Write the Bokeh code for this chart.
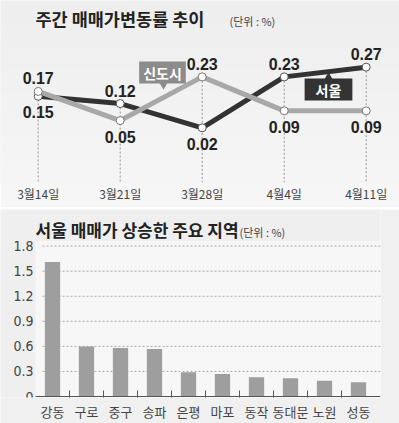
from bokeh.plotting import figure
from bokeh.layouts import column
from bokeh.models import Label, FixedTicker, BoxAnnotation, ColumnDataSource, Range1d
from bokeh.core.properties import value
from bokeh.embed import file_html
from bokeh.resources import INLINE

# ---------------- data ----------------
dates = ["3월14일", "3월21일", "3월28일", "4월4일", "4월11일"]
seoul = [0.15, 0.12, 0.02, 0.23, 0.27]
sindosi = [0.17, 0.05, 0.23, 0.09, 0.09]

regions = ["강동", "구로", "중구", "송파", "은평", "마포", "동작", "동대문", "노원", "성동"]
rise = [1.61, 0.60, 0.58, 0.57, 0.29, 0.27, 0.23, 0.22, 0.19, 0.17]
y_ticks = [0, 0.3, 0.6, 0.9, 1.2, 1.5, 1.8]

KR = "Noto Sans CJK KR"
NUM = "Liberation Sans"
NARROW = "Liberation Sans Narrow, DejaVu Sans Condensed, sans-serif"

W = 399

# ---------------- top chart ----------------
H1 = 207
SX1, X01 = 82.0, -37.7 / 82.0
SY1, YT1 = 242.7, 132.2 / 242.7
FB1 = 182  # frame bottom in figure px
YB1 = YT1 - FB1 / SY1

def t_xy(px, py):
    return X01 + px / SX1, YT1 - py / SY1

p1 = figure(width=W, height=H1, x_range=Range1d(X01, X01 + W / SX1),
            y_range=Range1d(YB1, YT1), output_backend="svg", toolbar_location=None,
            y_axis_location=None, min_border_left=0, min_border_right=0,
            min_border_top=0, min_border_bottom=H1 - FB1, frame_align=False)
p1.background_fill_color = "#f0f0f0"
p1.border_fill_color = "#f6f6f6"
p1.outline_line_color = None
p1.grid.visible = False

# soft vertical gradient of the panel
shades = ["#eeeeee", "#efefef", "#f0f0f0", "#f1f1f1", "#f2f2f2", "#f3f3f3", "#f4f4f4", "#f5f5f5"]
step = (YT1 - YB1) / len(shades)
for k, c in enumerate(shades):
    p1.add_layout(BoxAnnotation(top=YT1 - k * step, bottom=YT1 - (k + 1) * step - 0.01,
                                fill_color=c, fill_alpha=1, line_color=None, level="underlay"))

n = len(dates)
xs = list(range(n))
ax = p1.xaxis[0]
ax.ticker = FixedTicker(ticks=xs)
ax.major_label_overrides = {i: d for i, d in enumerate(dates)}
ax.axis_line_color = None
ax.major_tick_line_color = None
ax.minor_tick_line_color = None
ax.major_tick_out = 0
ax.minor_tick_out = 0
ax.major_label_standoff = 2
ax.major_label_text_font = KR
ax.major_label_text_font_size = "12px"
ax.major_label_text_color = "#444444"

tops = [max(a, b) for a, b in zip(seoul, sindosi)]
p1.segment(x0=xs, y0=tops, x1=xs, y1=[YB1] * n, line_color="#999999",
           line_width=1, line_dash="2 2")

p1.line(xs, seoul, line_color="#333333", line_width=5)
p1.line(xs, sindosi, line_color="#a8a8a8", line_width=5)
p1.scatter(xs, seoul, size=8, fill_color="white", line_color="#555555", line_width=1)
p1.scatter(xs, sindosi, size=8, fill_color="white", line_color="#777777", line_width=1)

lx, ly, lt, lo = [], [], [], []
for i in range(n):
    for vals, other in ((seoul, sindosi), (sindosi, seoul)):
        lx.append(i)
        ly.append(vals[i])
        lt.append(f"{vals[i]:.2f}")
        lo.append(-13 if vals[i] > other[i] else 16)
src = ColumnDataSource(dict(x=lx, y=ly, t=lt, off=lo))
p1.text(x="x", y="y", text="t", y_offset="off", source=src, text_align="center",
        text_baseline="middle", text_font=value(NUM), text_font_style="bold",
        text_font_size="16px", text_color="#222222")

x, y = t_xy(35, 18)
p1.add_layout(Label(x=x, y=y, text="주간 매매가변동률 추이", text_font=KR,
                    text_font_style="bold", text_font_size="17.5px", text_color="#222222",
                    text_baseline="middle"))
x, y = t_xy(229, 20)
p1.add_layout(Label(x=x, y=y, text="(단위 : %)", text_font=KR, text_font_size="11px",
                    text_color="#444444", text_baseline="middle"))

# callouts
x, y = t_xy(163, 84)
p1.scatter([x], [y], marker="inverted_triangle", size=9, fill_color="#8c8c8c", line_color=None)
x, y = t_xy(162, 72)
p1.add_layout(Label(x=x, y=y, text="신도시", text_font=KR, text_font_style="bold",
                    text_font_size="14px", text_color="white", text_align="center",
                    text_baseline="middle", background_fill_color="#8c8c8c",
                    padding=(4, 1)))
x, y = t_xy(328, 77)
p1.scatter([x], [y], marker="triangle", size=9, fill_color="#333333", line_color=None)
x, y = t_xy(328, 89)
p1.add_layout(Label(x=x, y=y, text="서울", text_font=KR, text_font_style="bold",
                    text_font_size="14px", text_color="white", text_align="center",
                    text_baseline="middle", background_fill_color="#333333",
                    padding=(11, 1)))

# ---------------- bottom chart ----------------
H2 = 214
TOP2 = 209      # page y of bottom figure
FR2 = 19        # right border
PL = 42         # page x where the plotting area starts
SX2 = 34.0
X02 = -52 / SX2
FB2 = 189
SY2 = (FB2 - 37) / 1.8
YT2 = FB2 / SY2
YS2 = -1.0 / SY2
X_END = X02 + (W - FR2) / SX2

def bx_(px):
    return X02 + px / SX2

def by_(py):
    return YT2 - (py - TOP2) / SY2

p2 = figure(width=W, height=H2, x_range=Range1d(X02, X_END),
            y_range=Range1d(YS2, YT2), output_backend="svg", toolbar_location=None,
            y_axis_location=None, min_border_left=0, min_border_right=FR2,
            min_border_top=0, min_border_bottom=H2 - FB2, frame_align=False)
p2.background_fill_color = "#f7f7f7"
p2.border_fill_color = "#f0f0f0"
p2.outline_line_color = None
p2.grid.visible = False
p2.add_layout(BoxAnnotation(bottom=by_(241), fill_color="#efefef", fill_alpha=1,
                            line_color=None, level="underlay"))
p2.add_layout(BoxAnnotation(right=bx_(35), fill_color="#efefef", fill_alpha=1,
                            line_color=None, level="underlay"))

# dotted grid lines and y tick labels
gy = y_ticks[1:]
p2.segment(x0=[bx_(PL)] * len(gy), y0=gy, x1=[X_END] * len(gy), y1=gy,
           line_color="#aaaaaa", line_width=1, line_dash="2 2")
ytl = ["0" if t == 0 else f"{t:.1f}" for t in y_ticks]
p2.text(x=[bx_(33)] * len(y_ticks), y=y_ticks, text=ytl, text_align="right",
        text_baseline="middle", text_font=value(NARROW), text_font_size="14px",
        text_color="#444444")

m = len(regions)
bxs = list(range(m))
p2.vbar(x=bxs, top=rise, width=0.45, fill_color="#9e9e9e", line_color=None)

# base line
p2.segment(x0=[bx_(35)], y0=[0], x1=[X_END], y1=[0], line_color="#555555", line_width=1)

xa = p2.xaxis[0]
xa.ticker = FixedTicker(ticks=bxs, minor_ticks=[i + 0.5 for i in range(m - 1)])
xa.major_label_overrides = {i: r for i, r in enumerate(regions)}
xa.axis_line_color = None
xa.major_tick_line_color = None
xa.major_tick_out = 0
xa.major_tick_in = 0
xa.minor_tick_in = 7
xa.minor_tick_out = 0
xa.minor_tick_line_color = "#555555"
xa.major_label_standoff = 4
xa.major_label_text_font = KR
xa.major_label_text_font_size = "13px"
xa.major_label_text_color = "#444444"

p2.add_layout(Label(x=bx_(35), y=by_(229), text="서울 매매가 상승한 주요 지역", text_font=KR,
                    text_font_style="bold", text_font_size="17px", text_color="#222222",
                    text_baseline="middle"))
p2.add_layout(Label(x=bx_(239), y=by_(232), text="(단위 : %)", text_font=KR,
                    text_font_size="11px", text_color="#444444", text_baseline="middle"))

layout = column(p1, p2, spacing=2)
open("out.html", "w").write(file_html(layout, INLINE))
